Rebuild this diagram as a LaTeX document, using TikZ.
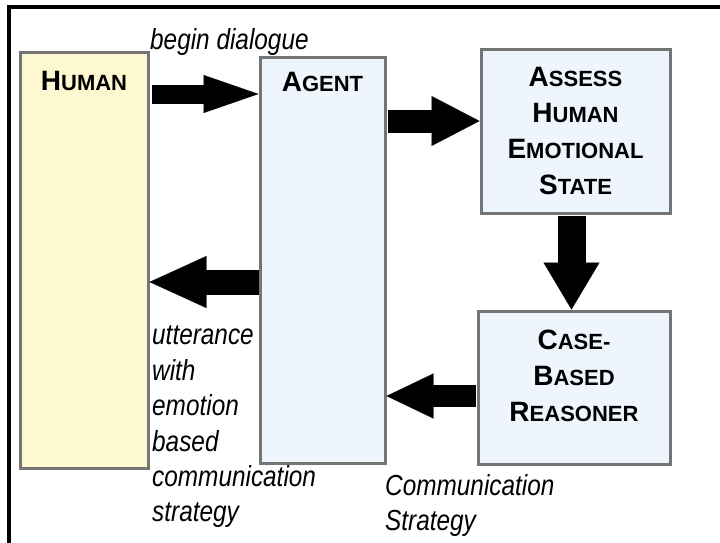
\documentclass[tikz,border=0pt]{standalone}
\usepackage{fontspec}
\setmainfont{Liberation Sans}
\newfontfamily\lblfont[FakeStretch=0.84]{Liberation Sans}
\usetikzlibrary{arrows.meta}

\definecolor{humanyellow}{HTML}{FEF8D0}
\definecolor{agentblue}{HTML}{EEF5FD}
\definecolor{boxgray}{HTML}{757575}

\newcommand{\smcap}[2]{#1{\fontsize{22}{36}\selectfont #2}}

\tikzset{
  box/.style={draw=boxgray, line width=3pt, rectangle, inner sep=0pt},
  title/.style={font=\bfseries\fontsize{28}{36}\selectfont, align=center, inner sep=0pt},
  lbl/.style={font=\lblfont\itshape\fontsize{29}{35.4}\selectfont, align=left, inner sep=0pt},
  bigarrow/.style n args={3}{line width=#1, shorten >=#2-3pt,
    postaction={draw, line width=0.1pt, shorten >=0pt, -{Triangle[length=#2,width=#3]}}},
}

\begin{document}
\begin{tikzpicture}[x=1pt,y=-1pt]
\useasboundingbox (0,0) rectangle (720,542);
%\draw[step=10,gray,very thin] (0,0) grid (720,542);
\draw[line width=4pt] (9,560) -- (9,7) -- (740,7);

\node[box, fill=humanyellow, minimum width=128pt, minimum height=416pt] (human) at (84,260) {};
\node[box, fill=agentblue, minimum width=125pt, minimum height=406pt] (agent) at (322.5,260) {};
\node[box, fill=agentblue, minimum width=189pt, minimum height=164pt] (assess) at (575.5,131) {};
\node[box, fill=agentblue, minimum width=192pt, minimum height=153pt] (case) at (574,387.5) {};

\node[title, anchor=north] (humantitle) at ([yshift=-21pt]human.north) {\smcap{H}{UMAN}};
\node[title, anchor=north] (agenttitle) at ([yshift=-17pt]agent.north) {\smcap{A}{GENT}};
\node[title] (assesstitle) at (assess.center) {\smcap{A}{SSESS}\\\smcap{H}{UMAN}\\\smcap{E}{MOTIONAL}\\\smcap{S}{TATE}};
\node[title] (casetitle) at ([yshift=12pt]case.center) {\smcap{C}{ASE-}\\\smcap{B}{ASED}\\\smcap{R}{EASONER}};

\draw[bigarrow={19pt}{55pt}{38pt}, shorten <=2pt] (human.east |- 0,94) -- (agent.west |- 0,94);
\draw[bigarrow={23pt}{48pt}{50pt}, shorten <=1pt] (agent.east |- 0,121) -- (assess.west |- 0,121);
\draw[bigarrow={28pt}{47pt}{56pt}, shorten <=1pt] ([xshift=-4pt]assess.south) -- ([xshift=-4pt]assess.south |- case.north);
\draw[bigarrow={22pt}{47pt}{45pt}, shorten <=1pt] (case.west |- 0,396) -- (agent.east |- 0,396);
\draw[bigarrow={25pt}{57pt}{52pt}] (agent.west |- 0,282) -- (human.east |- 0,282);

\node[lbl, anchor=base west] (begin) at (150,49) {begin dialogue};
\node[lbl, anchor=north west] (utter) at (152,326) {utterance\\with\\emotion\\based\\communication\\strategy};
\node[lbl, anchor=north west] (strategy) at (385,474) {Communication\\Strategy};
\end{tikzpicture}
\end{document}
